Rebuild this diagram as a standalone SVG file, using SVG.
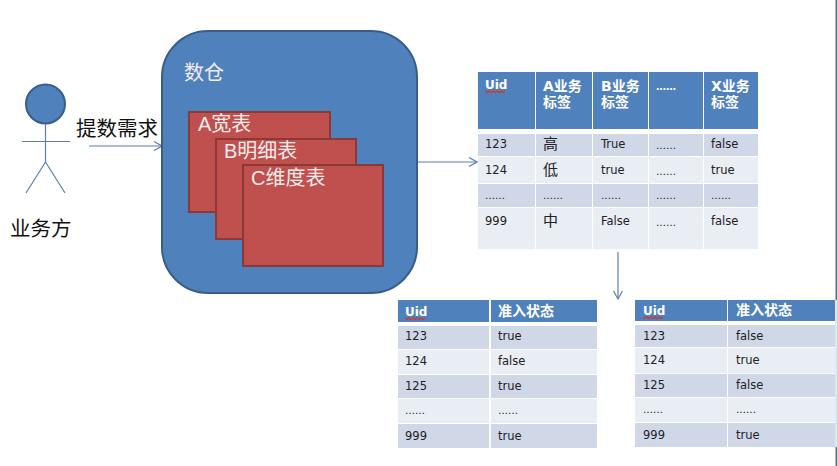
<svg xmlns="http://www.w3.org/2000/svg" width="837" height="466" viewBox="0 0 837 466">
<style>
text{font-family:"Liberation Sans","Noto Sans CJK SC",sans-serif}
.big{font-size:20.500px;fill:#111}
.w{font-size:20px;fill:#f4ecec}
.ln{fill:none;stroke:#5b7fb0;stroke-width:1.2}
.red{fill:#c0504d;stroke:#8c3836;stroke-width:2}
.h{fill:#4f81bd}.d{fill:#d0d8e8}.l{fill:#e9edf4}
.th{font-size:14px;font-weight:bold;fill:#fff;font-family:"DejaVu Sans","Noto Sans CJK SC",sans-serif}
.u{font-size:12px}
.td{font-size:11.500px;fill:#222;font-family:"DejaVu Sans","Noto Sans CJK SC",sans-serif}
.cj{font-size:15px}
.e{font-size:10px}
.sp{fill:none;stroke:#e0302a;stroke-width:1.200}
</style>
<defs>
<marker id="arr" markerWidth="10" markerHeight="12" refX="9" refY="6" orient="auto" markerUnits="userSpaceOnUse"><path d="M1 1.500L9 6L1 10.500" fill="none" stroke="#5b7fb0" stroke-width="1.200"/></marker>
<path id="wave" class="sp" d="M0 0l2 1.500l2-1.500l2 1.500l2-1.500l2 1.500l2-1.500l2 1.500l2-1.500l2 1.500l2-1.500"/>
</defs>
<rect width="837" height="466" fill="#fff"/>
<rect x="835.500" y="0" width="1.500" height="466" fill="#54708f"/>
<rect x="835" y="300" width="2" height="147" fill="#dce8f4"/>
<g id="connectors">
<line class="ln" x1="89" y1="146" x2="162" y2="146" marker-end="url(#arr)"/>
<line class="ln" x1="418" y1="162" x2="477" y2="162" marker-end="url(#arr)"/>
<line class="ln" x1="618" y1="252" x2="618" y2="299" marker-end="url(#arr)"/>
</g>
<g id="actor">
<circle cx="45.500" cy="104" r="19.500" fill="#4f81bd" stroke="#385d8a" stroke-width="2"/>
<path class="ln" d="M45.500 124V162M22 141.500H70M45.500 162L26 193M45.500 162L65 193"/>
<text class="big" x="10" y="236">业务方</text>
</g>
<text id="request-label" class="big" x="76" y="136">提数需求</text>
<g id="warehouse">
<rect x="162" y="31" width="255" height="262" rx="46" fill="#4f81bd" stroke="#385d8a" stroke-width="2"/>
<text class="w" x="184" y="80">数仓</text>
</g>
<g id="table-a"><rect class="red" x="189" y="112" width="141" height="100"/><text class="w" x="198" y="131">A宽表</text></g>
<g id="table-b"><rect class="red" x="216" y="139" width="140" height="100"/><text class="w" x="224" y="158">B明细表</text></g>
<g id="table-c"><rect class="red" x="243" y="165" width="140" height="101"/><text class="w" x="251" y="185">C维度表</text></g>
<g id="tag-table">
<rect class="h" x="478" y="72" width="57" height="57"/><rect class="h" x="536" y="72" width="56" height="57"/><rect class="h" x="593" y="72" width="55" height="57"/><rect class="h" x="649" y="72" width="54" height="57"/><rect class="h" x="704" y="72" width="54" height="57"/>
<rect class="d" x="478" y="134" width="57" height="22"/><rect class="d" x="536" y="134" width="56" height="22"/><rect class="d" x="593" y="134" width="55" height="22"/><rect class="d" x="649" y="134" width="54" height="22"/><rect class="d" x="704" y="134" width="54" height="22"/>
<rect class="l" x="478" y="157" width="57" height="26"/><rect class="l" x="536" y="157" width="56" height="26"/><rect class="l" x="593" y="157" width="55" height="26"/><rect class="l" x="649" y="157" width="54" height="26"/><rect class="l" x="704" y="157" width="54" height="26"/>
<rect class="d" x="478" y="184" width="57" height="23"/><rect class="d" x="536" y="184" width="56" height="23"/><rect class="d" x="593" y="184" width="55" height="23"/><rect class="d" x="649" y="184" width="54" height="23"/><rect class="d" x="704" y="184" width="54" height="23"/>
<rect class="l" x="478" y="208" width="57" height="41"/><rect class="l" x="536" y="208" width="56" height="41"/><rect class="l" x="593" y="208" width="55" height="41"/><rect class="l" x="649" y="208" width="54" height="41"/><rect class="l" x="704" y="208" width="54" height="41"/>
<text class="th u" x="485" y="89">Uid</text><use href="#wave" x="485" y="91"/>
<text class="th" x="543" y="91">A业务</text><text class="th" x="543" y="107">标签</text>
<text class="th" x="601" y="91">B业务</text><text class="th" x="601" y="107">标签</text>
<text class="th e" x="656" y="90">……</text>
<text class="th" x="711" y="91">X业务</text><text class="th" x="711" y="107">标签</text>
<text class="td" x="485" y="148">123</text><text class="td cj" x="543" y="149">高</text><text class="td" x="601" y="148">True</text><text class="td e" x="656" y="149">……</text><text class="td" x="711" y="148">false</text>
<text class="td" x="485" y="174">124</text><text class="td cj" x="543" y="175">低</text><text class="td" x="601" y="174">true</text><text class="td e" x="656" y="175">……</text><text class="td" x="711" y="174">true</text>
<text class="td e" x="485" y="199">……</text><text class="td e" x="543" y="199">……</text><text class="td e" x="601" y="199">……</text><text class="td e" x="656" y="199">……</text><text class="td e" x="711" y="199">……</text>
<text class="td" x="485" y="225">999</text><text class="td cj" x="543" y="226">中</text><text class="td" x="601" y="225">False</text><text class="td e" x="656" y="226">……</text><text class="td" x="711" y="225">false</text>
</g>
<g id="status-table-1">
<rect class="h" x="398" y="300" width="91" height="22"/><rect class="h" x="491" y="300" width="106" height="22"/>
<rect class="d" x="398" y="326" width="91" height="23"/><rect class="d" x="491" y="326" width="106" height="23"/>
<rect class="l" x="398" y="350" width="91" height="24"/><rect class="l" x="491" y="350" width="106" height="24"/>
<rect class="d" x="398" y="375" width="91" height="23"/><rect class="d" x="491" y="375" width="106" height="23"/>
<rect class="l" x="398" y="399" width="91" height="24"/><rect class="l" x="491" y="399" width="106" height="24"/>
<rect class="d" x="398" y="424" width="91" height="24"/><rect class="d" x="491" y="424" width="106" height="24"/>
<text class="th u" x="405" y="316">Uid</text><use href="#wave" x="405" y="318"/><text class="th" x="498" y="316">准入状态</text>
<text class="td" x="405" y="340">123</text><text class="td" x="498" y="340">true</text>
<text class="td" x="405" y="365">124</text><text class="td" x="498" y="365">false</text>
<text class="td" x="405" y="390">125</text><text class="td" x="498" y="390">true</text>
<text class="td e" x="405" y="414">……</text><text class="td e" x="498" y="414">……</text>
<text class="td" x="405" y="440">999</text><text class="td" x="498" y="440">true</text>
</g>
<g id="status-table-2">
<rect class="h" x="635" y="300" width="92" height="21"/><rect class="h" x="728" y="300" width="107" height="21"/>
<rect class="d" x="635" y="325" width="92" height="22"/><rect class="d" x="728" y="325" width="107" height="22"/>
<rect class="l" x="635" y="348" width="92" height="25"/><rect class="l" x="728" y="348" width="107" height="25"/>
<rect class="d" x="635" y="374" width="92" height="23"/><rect class="d" x="728" y="374" width="107" height="23"/>
<rect class="l" x="635" y="398" width="92" height="24"/><rect class="l" x="728" y="398" width="107" height="24"/>
<rect class="d" x="635" y="423" width="92" height="24"/><rect class="d" x="728" y="423" width="107" height="24"/>
<text class="th u" x="643" y="315">Uid</text><use href="#wave" x="643" y="317"/><text class="th" x="736" y="315">准入状态</text>
<text class="td" x="643" y="340">123</text><text class="td" x="736" y="340">false</text>
<text class="td" x="643" y="364">124</text><text class="td" x="736" y="364">true</text>
<text class="td" x="643" y="389">125</text><text class="td" x="736" y="389">false</text>
<text class="td e" x="643" y="413">……</text><text class="td e" x="736" y="413">……</text>
<text class="td" x="643" y="439">999</text><text class="td" x="736" y="439">true</text>
</g>
</svg>
